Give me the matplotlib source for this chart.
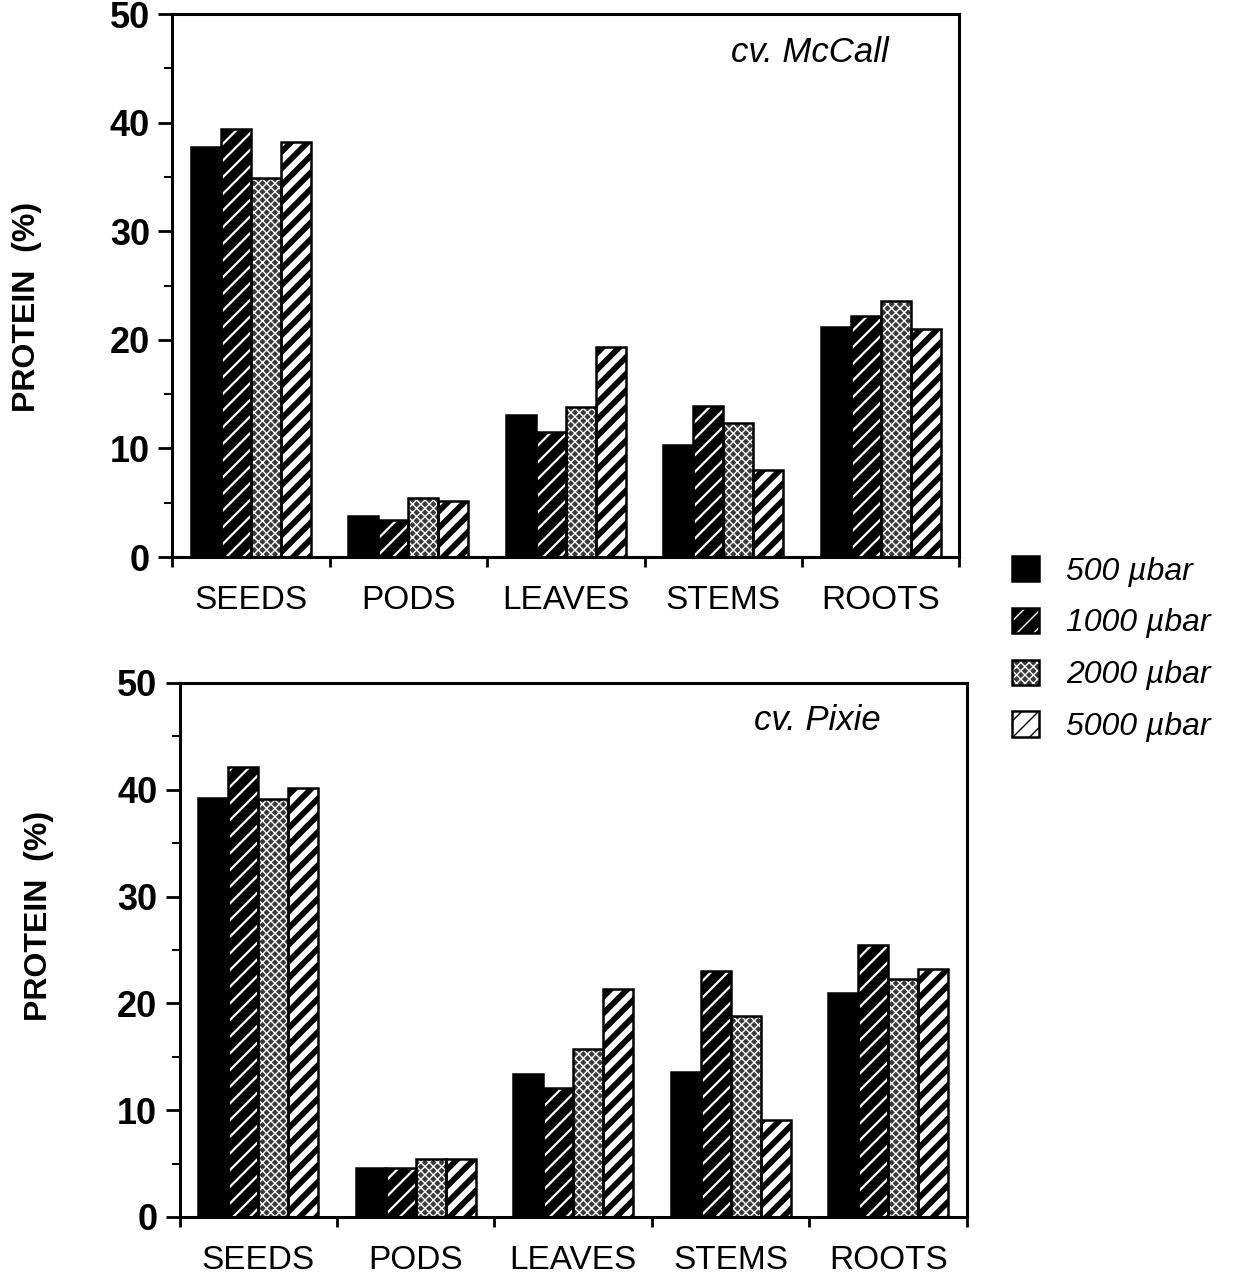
"""Protein content by organ under four CO2 levels, cv. McCall and cv. Pixie."""

import matplotlib
matplotlib.use("Agg")
import matplotlib.pyplot as plt
import numpy as np
from matplotlib.patches import Patch

plt.rcParams["font.family"] = ["Liberation Sans", "DejaVu Sans"]

# ── data ──────────────────────────────────────────────────────────────
organs = ["SEEDS", "PODS", "LEAVES", "STEMS", "ROOTS"]
levels = ["500 \u00b5bar", "1000 \u00b5bar", "2000 \u00b5bar", "5000 \u00b5bar"]

mccall_500 = [37.8, 3.8, 13.1, 10.3, 21.2]
mccall_1000 = [39.4, 3.4, 11.5, 13.9, 22.2]
mccall_2000 = [34.9, 5.4, 13.8, 12.3, 23.6]
mccall_5000 = [38.2, 5.2, 19.3, 8.0, 21.0]

pixie_500 = [39.2, 4.6, 13.4, 13.6, 21.0]
pixie_1000 = [42.1, 4.6, 12.1, 23.0, 25.5]
pixie_2000 = [39.1, 5.4, 15.7, 18.8, 22.3]
pixie_5000 = [40.2, 5.4, 21.3, 9.1, 23.2]

# ── bar styles: (face, hatch colour, hatch, hatch lw) ─────────────────
STYLES = [
    ("black", "black", "", 1.0),
    ("black", "white", "//", 1.6),
    ("#3a3a3a", "white", "xxxx", 1.0),
    ("white", "black", "//", 4.2),
]
EDGE_LW = 1.8
BW = 0.19


def _bars(ax, x, vals, style):
    face, hcol, hatch, hlw = style
    with plt.rc_context({"hatch.linewidth": hlw}):
        ax.bar(x, vals, BW, color=face, edgecolor=hcol, hatch=hatch,
               linewidth=0, zorder=2)
    ax.bar(x, vals, BW, fill=False, edgecolor="black", linewidth=EDGE_LW,
           zorder=3)


def _panel(ax, series, title, label_xy):
    x = np.arange(len(organs))
    offs = (np.arange(4) - 1.5) * BW
    for vals, off, st in zip(series, offs, STYLES):
        _bars(ax, x + off, vals, st)

    ax.set_xlim(-0.5, len(organs) - 0.5)
    ax.set_ylim(0, 50)
    ax.set_yticks(np.arange(0, 51, 10))
    ax.set_yticks(np.arange(5, 50, 10), minor=True)
    ax.set_xticks(x)
    ax.set_xticklabels(organs, fontsize=24)
    ax.set_xticks(np.arange(-0.5, len(organs)), minor=True)
    ax.tick_params(axis="x", which="major", length=0, pad=20)
    ax.tick_params(axis="x", which="minor", length=7, width=2, direction="out")
    ax.tick_params(axis="y", which="major", length=10, width=2, pad=6,
                   labelsize=26)
    ax.tick_params(axis="y", which="minor", length=6, width=1.5)
    for lab in ax.get_yticklabels():
        lab.set_fontweight("bold")
    for sp in ax.spines.values():
        sp.set_linewidth(2.2)
    ax.set_ylabel("PROTEIN  (%)", fontsize=23, fontweight="bold")
    ax.yaxis.set_label_coords(*label_xy)
    ax.text(0.81, 0.93, title, transform=ax.transAxes, ha="center",
            va="center", fontsize=25, style="italic")


fig = plt.figure(figsize=(12.38, 12.79), dpi=100)
ax1 = fig.add_axes([0.139, 0.5645, 0.636, 0.4245])
ax2 = fig.add_axes([0.145, 0.0485, 0.636, 0.4175])

_panel(ax1, [mccall_500, mccall_1000, mccall_2000, mccall_5000], "cv. McCall",
       (-0.165, 0.46))
_panel(ax2, [pixie_500, pixie_1000, pixie_2000, pixie_5000], "cv. Pixie",
       (-0.159, 0.563))

# ── legend ────────────────────────────────────────────────────────────
handles = []
for face, hcol, hatch, hlw in STYLES:
    with plt.rc_context({"hatch.linewidth": hlw}):
        fill = Patch(facecolor=face, edgecolor=hcol, hatch=hatch, linewidth=0)
    edge = Patch(fill=False, edgecolor="black", linewidth=EDGE_LW)
    handles.append((fill, edge))
leg = fig.legend(handles, levels, loc="center left",
                 bbox_to_anchor=(996 / 1238, 1 - 649 / 1279),
                 frameon=False, prop={"size": 23, "style": "italic"},
                 handlelength=0.85, handleheight=0.85, handletextpad=0.85,
                 labelspacing=0.66, borderpad=0)

fig.savefig("out.png", dpi=100)
